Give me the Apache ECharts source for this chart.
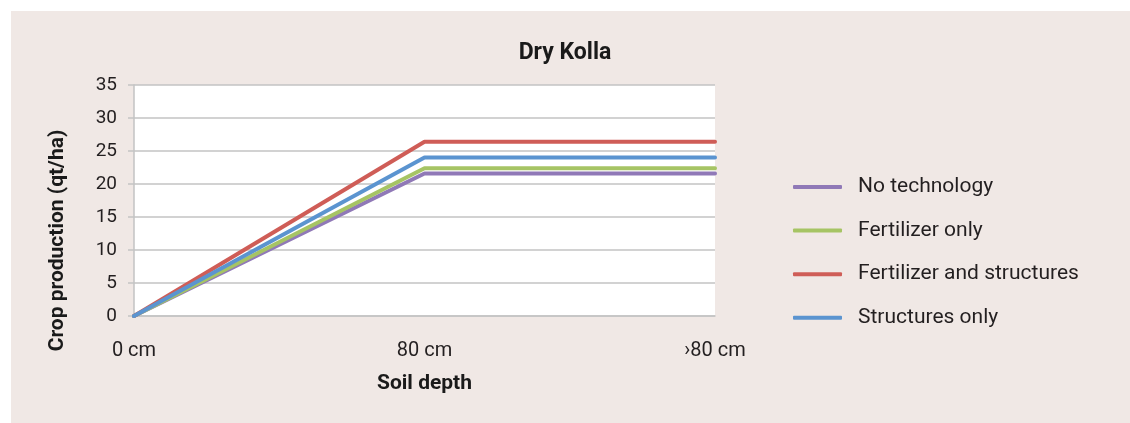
<!DOCTYPE html>
<html>
<head>
<meta charset="utf-8">
<script src="https://cdn.jsdelivr.net/npm/echarts@6/dist/echarts.min.js"></script>
<style>
  html, body { margin: 0; padding: 0; background: #ffffff; }
  #chart { width: 1130px; height: 423px; }
</style>
</head>
<body>
<div id="chart"></div>
<script>
// Soil depth categories
const depths = ['0 cm', '80 cm', '\u203A80 cm'];

// Crop production (qt/ha) per technology
const noTechnology = [0, 21.6, 21.6];
const fertilizerOnly = [0, 22.4, 22.4];
const fertilizerAndStructures = [0, 26.4, 26.4];
const structuresOnly = [0, 24.0, 24.0];

const seriesNames = ['No technology', 'Fertilizer only', 'Fertilizer and structures', 'Structures only'];
const seriesValues = [noTechnology, fertilizerOnly, fertilizerAndStructures, structuresOnly];
const seriesColors = ['#9079b7', '#a6c464', '#cf5d57', '#5b94d0'];

const font = 'Roboto, "Noto Sans", sans-serif';
const textColor = '#231f20';
const gridColor = '#c3c3c3';

const chart = echarts.init(document.getElementById('chart'), null, { renderer: 'canvas' });

chart.setOption({
  backgroundColor: '#ffffff',
  animation: false,
  textStyle: { fontFamily: font, color: textColor },
  graphic: [{
    type: 'rect',
    z: -10,
    silent: true,
    shape: { x: 11, y: 11, width: 1119, height: 412 },
    style: { fill: '#f0e8e5' }
  }],
  title: {
    text: 'Dry Kolla',
    left: 'center',
    top: 37,
    textStyle: { fontFamily: font, fontSize: 23, fontWeight: 'bold', color: '#1a1a1a' }
  },
  legend: {
    orient: 'vertical',
    left: 788,
    top: 170,
    itemWidth: 49,
    itemHeight: 4,
    itemGap: 19.6,
    icon: 'roundRect',
    data: seriesNames,
    textStyle: {
      fontFamily: font, fontSize: 21, color: textColor,
      lineHeight: 24, padding: [0, 0, 0, 11]
    }
  },
  grid: {
    left: 134, right: 415, top: 85, bottom: 107,
    show: true, backgroundColor: '#ffffff', borderWidth: 0
  },
  xAxis: {
    type: 'category',
    data: depths,
    boundaryGap: false,
    axisLine: { show: true, lineStyle: { color: gridColor, width: 1.5 } },
    axisTick: { show: false },
    axisLabel: { fontFamily: font, fontSize: 20, color: textColor, margin: 25 },
    name: 'Soil depth',
    nameLocation: 'middle',
    nameGap: 57,
    nameTextStyle: { fontFamily: font, fontSize: 21, fontWeight: 'bold', color: '#1a1a1a' }
  },
  yAxis: {
    type: 'value',
    min: 0, max: 35, interval: 5,
    axisLine: { show: true, lineStyle: { color: gridColor, width: 1.5 } },
    axisTick: { show: true, length: 6, lineStyle: { color: gridColor, width: 1.5 } },
    splitLine: { show: true, lineStyle: { color: gridColor, width: 1.5 } },
    axisLabel: { fontFamily: font, fontSize: 19, color: textColor, margin: 17 },
    name: 'Crop production (qt/ha)',
    nameLocation: 'middle',
    nameGap: 66,
    nameRotate: 90,
    nameTextStyle: {
      fontFamily: font, fontSize: 21, fontWeight: 'bold', color: '#1a1a1a',
      padding: [0, 80, 0, 0]
    }
  },
  series: seriesNames.map((name, i) => ({
    name: name,
    type: 'line',
    data: seriesValues[i],
    symbol: 'none',
    lineStyle: { width: 4, color: seriesColors[i], cap: 'round', join: 'round' },
    itemStyle: { color: seriesColors[i] }
  }))
});
</script>
</body>
</html>
